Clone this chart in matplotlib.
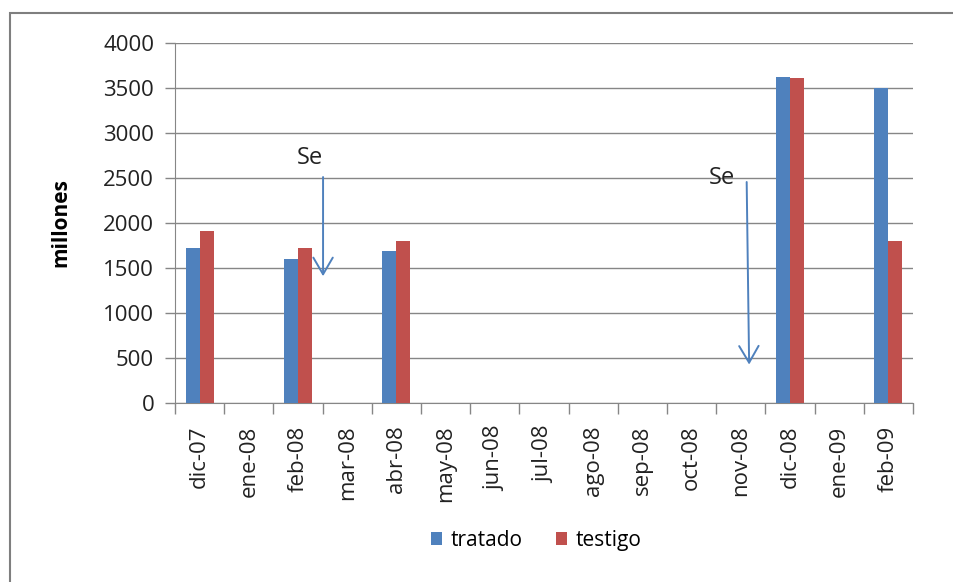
import numpy as np
import matplotlib.pyplot as plt
from matplotlib.patches import Rectangle

plt.rcParams['font.family'] = ['Open Sans', 'DejaVu Sans']

meses = ['dic-07', 'ene-08', 'feb-08', 'mar-08', 'abr-08', 'may-08', 'jun-08',
         'jul-08', 'ago-08', 'sep-08', 'oct-08', 'nov-08', 'dic-08', 'ene-09', 'feb-09']
tratado = [1725, 0, 1600, 0, 1685, 0, 0, 0, 0, 0, 0, 0, 3615, 0, 3495]
testigo = [1915, 0, 1725, 0, 1800, 0, 0, 0, 0, 0, 0, 0, 3605, 0, 1800]

# notas "Se": (x texto, y texto, x inicio, y inicio, x punta, y punta)
notas = [
    (2.24, 2720, 2.51, 2510, 2.51, 1410),
    (10.61, 2500, 11.12, 2455, 11.17, 430),
]

azul = '#4F81BD'
rojo = '#C0504D'
gris = '#868686'
texto = '#222222'

fig = plt.figure(figsize=(9.54, 5.82), dpi=100)
ax = fig.add_axes([0.1834, 0.307, 0.7736, 0.6196])

x = np.arange(len(meses))
w = 0.285
ax.bar(x - w / 2, tratado, w, color=azul, label='tratado', zorder=3)
ax.bar(x + w / 2, testigo, w, color=rojo, label='testigo', zorder=3)

ax.set_xlim(-0.5, len(meses) - 0.5)
ax.set_ylim(0, 4000)
ax.set_yticks(np.arange(0, 4001, 500))
ax.yaxis.grid(True, color=gris, linewidth=1.0, zorder=0)
ax.tick_params(axis='y', length=7, width=1, color=gris, pad=8, labelsize=16, labelcolor=texto)

# ticks entre categorias, etiquetas centradas
ax.set_xticks(np.arange(-0.5, len(meses), 1.0))
ax.set_xticklabels([])
ax.set_xticks(x, minor=True)
ax.set_xticklabels(meses, minor=True, rotation=90, fontsize=16, color=texto)
ax.tick_params(axis='x', which='major', length=8, width=1, color=gris)
ax.tick_params(axis='x', which='minor', length=0, pad=16)

for s in ['top', 'right']:
    ax.spines[s].set_visible(False)
ax.spines['left'].set_color(gris)
ax.spines['bottom'].set_color(gris)

ax.set_ylabel('millones', fontsize=15, fontweight='bold')
ax.yaxis.set_label_coords(-0.141, 0.50)

for tx, ty, x0, y0, x1, y1 in notas:
    ax.text(tx, ty, 'Se', fontsize=17, ha='center', va='center', color=texto)
    ax.annotate('', xy=(x1, y1), xytext=(x0, y0),
                arrowprops=dict(arrowstyle='->,head_length=0.6,head_width=0.35',
                                color=azul, lw=1.4, mutation_scale=20,
                                shrinkA=0, shrinkB=0))

fig.legend(loc='center', bbox_to_anchor=(0.562, 0.072), ncol=2, frameon=False,
           fontsize=15, handlelength=0.55, handleheight=0.55, handletextpad=0.4,
           columnspacing=1.6)

fig.patches.append(Rectangle((10 / 954, -0.1), 1.2, 1 - 13 / 582 + 0.1,
                             transform=fig.transFigure, fill=False,
                             edgecolor='#7f7f7f', linewidth=1.5))

fig.savefig('out.png', dpi=100)
